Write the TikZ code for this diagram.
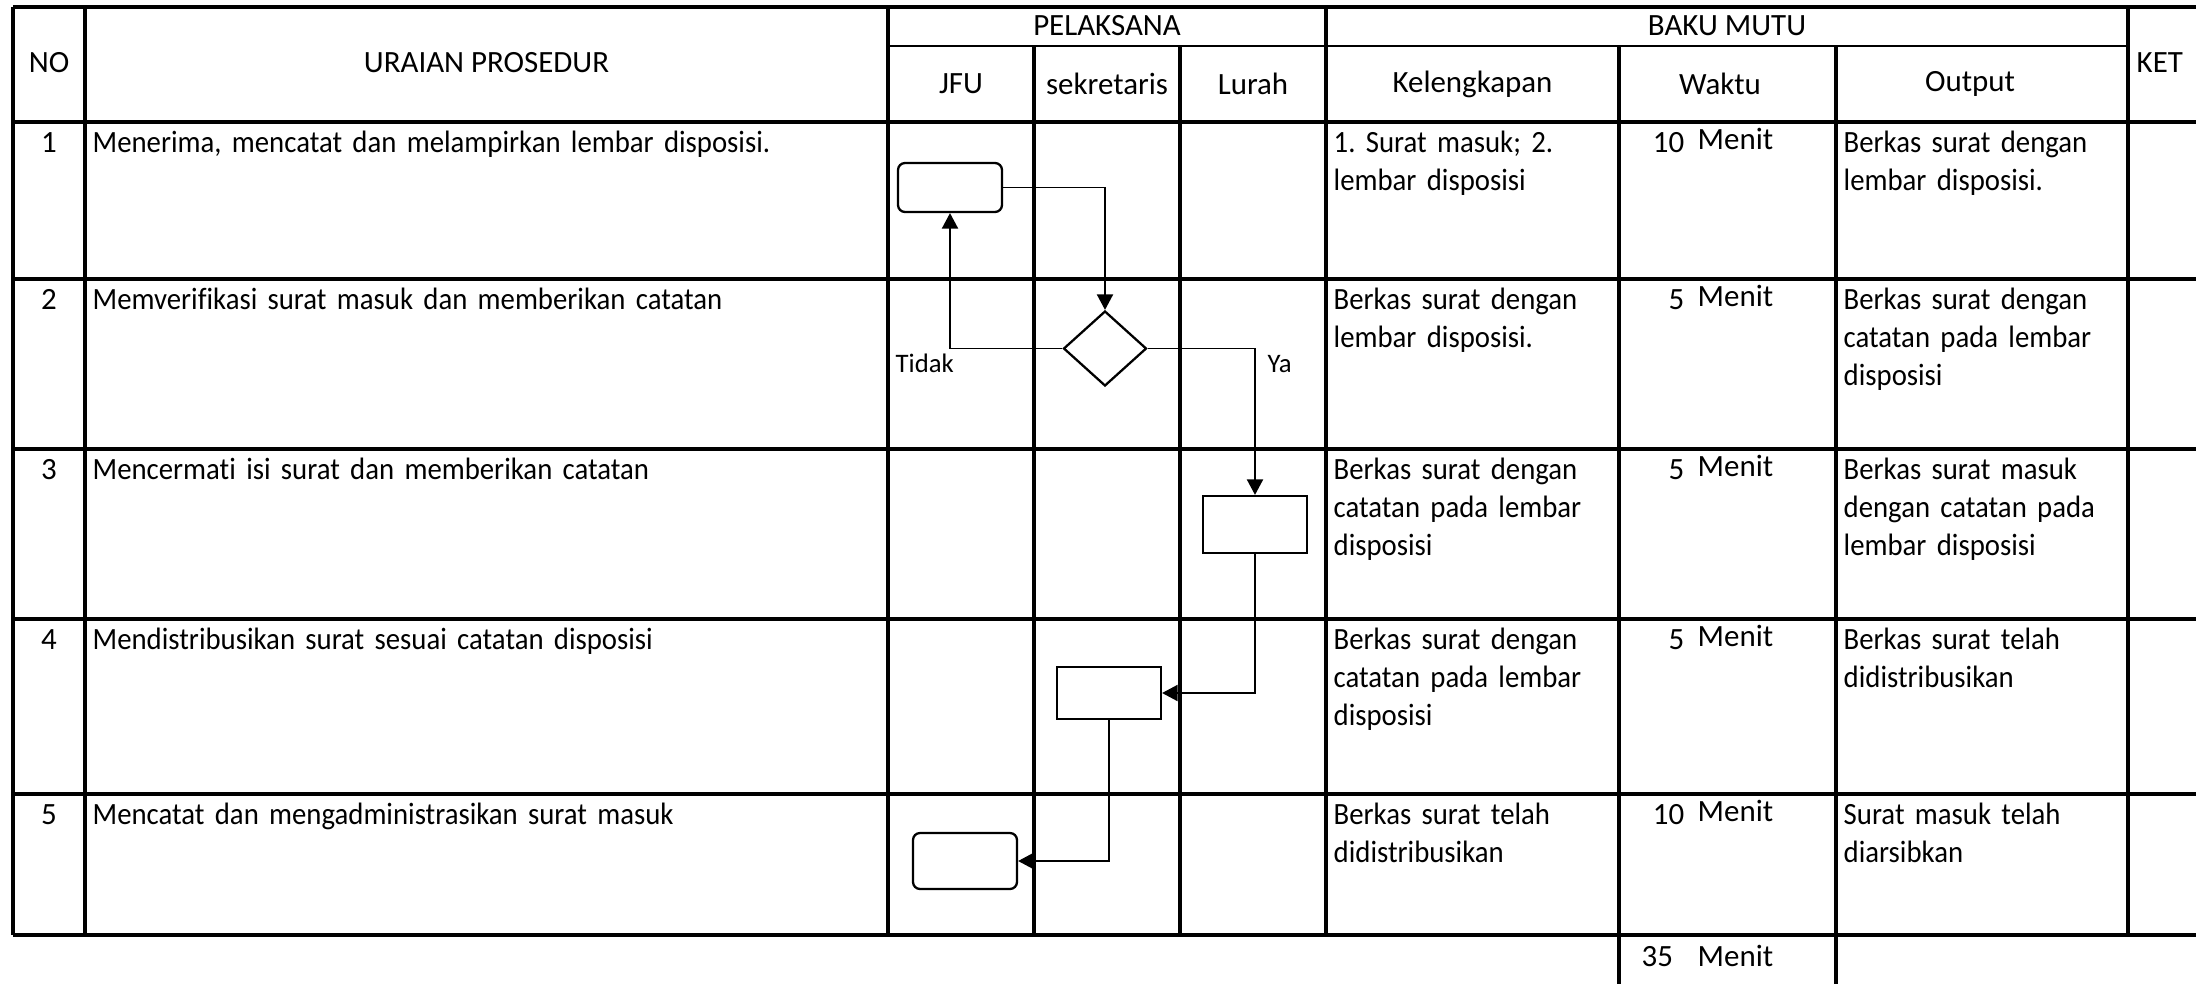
\documentclass[tikz,border=0pt]{standalone}
\usepackage{fontspec}
\setmainfont{Carlito}
\newfontfamily\cellfont{Carlito}[FakeStretch=0.93, Ligatures=NoCommon]
\usetikzlibrary{shapes.geometric,arrows.meta}
\frenchspacing

\begin{document}
\begin{tikzpicture}[
    font=\fontsize{8.8}{10.9}\selectfont,
    grid/.style={line width=0.9pt},
    subgrid/.style={line width=0.6pt},
    startstop/.style={draw, rounded corners=2pt, line width=0.65pt, minimum width=1.04cm, inner sep=0pt},
    process/.style={draw, line width=0.65pt, minimum width=1.04cm, inner sep=0pt},
    decision/.style={draw, diamond, line width=0.65pt, minimum width=0.83cm, minimum height=0.75cm, inner sep=0pt},
    flow/.style={line width=0.4pt, -{Triangle[length=4.4pt, width=4.6pt]}},
    cell/.style={anchor=base west, text width=3.2cm, align=left, inner sep=0pt,
        font=\cellfont\fontsize{8.8}{10.9}\selectfont},
    small/.style={font=\fontsize{7.6}{9}\selectfont, inner sep=0pt}
]
    \useasboundingbox (0, 0) rectangle (21.96, -9.84);

    % Table lines
    \draw[grid] (0.13, -0.07) -- (21.96, -0.07);
    \draw[subgrid] (8.88, -0.46) -- (21.28, -0.46);
    \foreach \y in {1.22, 2.79, 4.49, 6.19, 7.94, 9.35}
        \draw[grid] (0.13, -\y) -- (21.96, -\y);
    \foreach \x in {0.13, 0.85, 8.88, 13.26, 21.28}
        \draw[grid] (\x, -0.07) -- (\x, -9.35);
    \foreach \x in {10.34, 11.80}
        \draw[grid] (\x, -0.46) -- (\x, -9.35);
    \foreach \x in {16.19, 18.36}
        \draw[grid] (\x, -0.46) -- (\x, -9.84);

    % Header
    \node (hno) at (0.49, -0.63) {NO};
    \node (hur) at (4.865, -0.63) {URAIAN PROSEDUR};
    \node (hpel) at (11.07, -0.26) {PELAKSANA};
    \node (hbaku) at (17.27, -0.26) {BAKU MUTU};
    \node (hjfu) at (9.61, -0.84) {JFU};
    \node (hsek) at (11.07, -0.84) {sekretaris};
    \node (hlur) at (12.53, -0.84) {Lurah};
    \node (hkel) at (14.725, -0.84) {Kelengkapan};
    \node (hwak) at (17.2, -0.84) {Waktu};
    \node (hout) at (19.70, -0.84) {Output};
    \node[anchor=west, inner sep=0pt] (hket) at (21.36, -0.63) {KET};

    % Row 1
    \node[anchor=base, inner sep=0pt] (no1) at (0.49, -1.52) {1};
    \node[cell, text width=7.8cm] (ur1) at (0.92, -1.52) {Menerima, mencatat dan melampirkan lembar disposisi.};
    \node[cell] (kel1) at (13.33, -1.52) {1. Surat masuk; 2.\\lembar disposisi};
    \node[anchor=base east, inner sep=0pt] (wak1) at (16.85, -1.52) {10};
    \node[anchor=base west, inner sep=0pt] (men1) at (16.97, -1.49) {Menit};
    \node[cell] (out1) at (18.43, -1.52) {Berkas surat dengan\\lembar disposisi.};

    % Row 2
    \node[anchor=base, inner sep=0pt] (no2) at (0.49, -3.09) {2};
    \node[cell, text width=7.8cm] (ur2) at (0.92, -3.09) {Memverifikasi surat masuk dan memberikan catatan};
    \node[cell] (kel2) at (13.33, -3.09) {Berkas surat dengan\\lembar disposisi.};
    \node[anchor=base east, inner sep=0pt] (wak2) at (16.85, -3.09) {5};
    \node[anchor=base west, inner sep=0pt] (men2) at (16.97, -3.06) {Menit};
    \node[cell] (out2) at (18.43, -3.09) {Berkas surat dengan\\catatan pada lembar\\disposisi};

    % Row 3
    \node[anchor=base, inner sep=0pt] (no3) at (0.49, -4.79) {3};
    \node[cell, text width=7.8cm] (ur3) at (0.92, -4.79) {Mencermati isi surat dan memberikan catatan};
    \node[cell] (kel3) at (13.33, -4.79) {Berkas surat dengan\\catatan pada lembar\\disposisi};
    \node[anchor=base east, inner sep=0pt] (wak3) at (16.85, -4.79) {5};
    \node[anchor=base west, inner sep=0pt] (men3) at (16.97, -4.76) {Menit};
    \node[cell] (out3) at (18.43, -4.79) {Berkas surat masuk\\dengan catatan pada\\lembar disposisi};

    % Row 4
    \node[anchor=base, inner sep=0pt] (no4) at (0.49, -6.49) {4};
    \node[cell, text width=7.8cm] (ur4) at (0.92, -6.49) {Mendistribusikan surat sesuai catatan disposisi};
    \node[cell] (kel4) at (13.33, -6.49) {Berkas surat dengan\\catatan pada lembar\\disposisi};
    \node[anchor=base east, inner sep=0pt] (wak4) at (16.85, -6.49) {5};
    \node[anchor=base west, inner sep=0pt] (men4) at (16.97, -6.46) {Menit};
    \node[cell] (out4) at (18.43, -6.49) {Berkas surat telah\\didistribusikan};

    % Row 5
    \node[anchor=base, inner sep=0pt] (no5) at (0.49, -8.24) {5};
    \node[cell, text width=7.8cm] (ur5) at (0.92, -8.24) {Mencatat dan mengadministrasikan surat masuk};
    \node[cell] (kel5) at (13.33, -8.24) {Berkas surat telah\\didistribusikan};
    \node[anchor=base east, inner sep=0pt] (wak5) at (16.85, -8.24) {10};
    \node[anchor=base west, inner sep=0pt] (men5) at (16.97, -8.21) {Menit};
    \node[cell] (out5) at (18.43, -8.24) {Surat masuk telah\\diarsibkan};

    % Total
    \node[anchor=base west, inner sep=0pt] (tot) at (16.41, -9.66) {35};
    \node[anchor=base west, inner sep=0pt] (totmen) at (16.97, -9.66) {Menit};

    % Flowchart
    \node[startstop, minimum height=0.49cm] (mulai) at (9.50, -1.875) {};
    \node[decision] (cek) at (11.05, -3.485) {};
    \node[process, minimum height=0.57cm] (lurah) at (12.55, -5.245) {};
    \node[process, minimum height=0.52cm] (sekre) at (11.09, -6.93) {};
    \node[startstop, minimum height=0.56cm] (selesai) at (9.65, -8.61) {};

    \draw[flow] (mulai.east) -| (cek.north);
    \draw[flow] (cek.west) -| (mulai.south);
    \draw[flow] (cek.east) -| (lurah.north);
    \draw[flow] (lurah.south) |- (sekre.east);
    \draw[flow] (sekre.south) |- (selesai.east);

    \node[small, anchor=base west] (tidak) at (8.95, -3.72) {Tidak};
    \node[small, anchor=base west] (ya) at (12.67, -3.72) {Ya};
\end{tikzpicture}
\end{document}
